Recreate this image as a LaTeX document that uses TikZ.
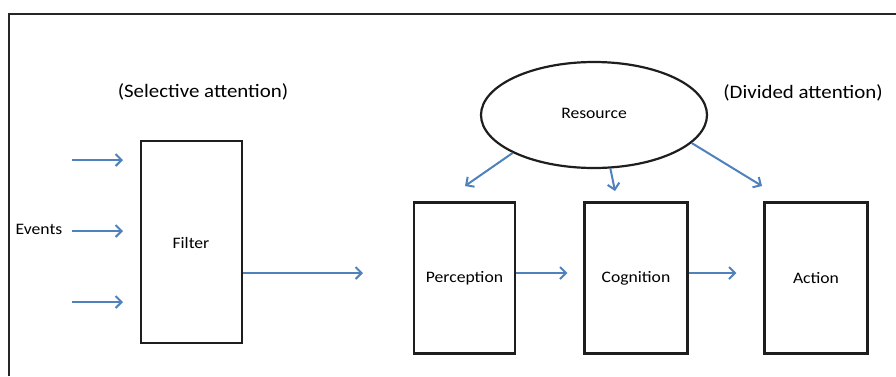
\documentclass[tikz,border=0pt]{standalone}
\usepackage{fontspec}
\setmainfont{Carlito}[FakeStretch=1.1]
\usetikzlibrary{arrows.meta,shapes.geometric}
\definecolor{arrowblue}{RGB}{79,129,189}
\definecolor{boxline}{RGB}{30,30,30}
\begin{document}
\begin{tikzpicture}[x=1pt,y=-1pt,
  box/.style={draw=boxline,line width=2.2pt,minimum width=101pt,inner sep=0pt},
  lbl/.style={font=\fontsize{16}{18}\selectfont,inner sep=0pt},
  biglbl/.style={font=\fontsize{19}{21}\selectfont,inner sep=0pt},
  flow/.style={draw=arrowblue,line width=2pt,-{Straight Barb[length=6pt,width=12pt,line width=2pt]}}]
\useasboundingbox (0,0) rectangle (896,376);
\fill[white] (0,0) rectangle (896,376);
\draw[line width=1.8pt,draw=black!85] (9,376) -- (9,14) -- (896,14);

\node[box,minimum height=202pt] (filter) at (191.5,242) {};
\node[lbl] at (191,243) {Filter};
\node[box,minimum height=151pt] (perception) at (464.5,278) {};
\node[lbl] at (464.5,278) {Perception};
\node[box,minimum width=103pt,minimum height=151pt] (cognition) at (636,278) {};
\node[lbl] at (636,278) {Cognition};
\node[box,minimum width=103pt,minimum height=151pt] (action) at (816,278) {};
\node[lbl] at (816,278) {Action};

\node[ellipse,draw=boxline,line width=2.2pt,minimum width=226pt,minimum height=106pt,inner sep=0pt] (resource) at (594,115) {};
\node[lbl] at (594,113) {Resource};

\node[lbl] (events) at (39,229) {Events};
\node[biglbl] (selective) at (203,92) {(Selective attention)};
\node[biglbl] (divided) at (803,93) {(Divided attention)};

\coordinate (e1a) at (72,160); \coordinate (e1b) at (123,160);
\coordinate (e2a) at (72,231); \coordinate (e2b) at (123,231);
\coordinate (e3a) at (72,302); \coordinate (e3b) at (123,302);
\draw[flow] (e1a) -- (e1b);
\draw[flow] (e2a) -- (e2b);
\draw[flow] (e3a) -- (e3b);

\coordinate (fout) at (363,273);
\draw[flow] ([yshift=-31pt]filter.east) -- (fout);
\draw[flow,shorten >=16pt] ([yshift=5pt]perception.east) -- ([yshift=5pt]cognition.west);
\draw[flow,shorten >=27pt] ([yshift=5pt]cognition.east) -- ([yshift=5pt]action.west);

\coordinate (r1) at (465,186);
\coordinate (r2) at (615,191);
\coordinate (r3) at (762,186);
\draw[flow] (resource.205) -- (r1);
\draw[flow] (resource.287) -- (r2);
\draw[flow] (resource.344) -- (r3);
\end{tikzpicture}
\end{document}
